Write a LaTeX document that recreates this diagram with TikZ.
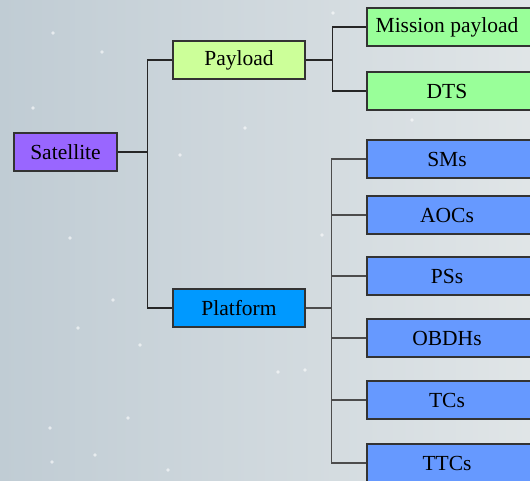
\documentclass[tikz,border=0pt]{standalone}
\usepackage{fontspec}
\setmainfont{Liberation Serif}

\definecolor{satfill}{RGB}{153,102,255}
\definecolor{payfill}{RGB}{204,255,153}
\definecolor{missionfill}{RGB}{153,255,153}
\definecolor{platfill}{RGB}{0,153,255}
\definecolor{subfill}{RGB}{102,153,255}
\definecolor{bgleft}{RGB}{192,204,212}
\definecolor{bgright}{RGB}{224,229,231}

\tikzset{%
  every block/.style={
    rectangle,
    draw=black!80,
    line width=1.3pt,
    minimum height=38pt,
    inner sep=0pt,
    font=\fontsize{21.5}{24}\selectfont
  },
  block satellite/.style={fill=satfill, minimum width=103pt},
  block payload/.style={fill=payfill, minimum width=132pt},
  block platform/.style={fill=platfill, minimum width=132pt},
  block mission/.style={fill=missionfill, minimum width=170pt,
    execute at begin node=\hspace*{-10pt}},
  block sub/.style={fill=subfill, minimum width=170pt,
    execute at begin node=\hspace*{-10pt}},
  link/.style={line width=1.2pt, draw=black!85},
}

\begin{document}
\begin{tikzpicture}[x=1pt, y=-1pt]

% BACKGROUND
\clip (0,0) rectangle (530,481);
\shade [left color=bgleft, right color=bgright] (0,0) rectangle (530,481);
\foreach \x/\y in {53/33,102/52,33/108,333/13,100/148,180/155,245/128,70/238,113/300,78/328,140/345,50/428,128/418,52/462,278/372,305/370,322/235,412/120,168/470,95/455}
  \fill [white, opacity=0.6] (\x,\y) circle (1.8pt);

% ROOT
\node [every block, block satellite] (satellite) at (65.5,152) {Satellite};

% SECOND level
\node [every block, block payload] (payload) at (239,60) {Payload};
\node [every block, block platform] (platform) at (239,308) {Platform};

% PAYLOAD children
\foreach \m/\l/\y in {mission/Mission payload/27, dts/DTS/91}
  \node [every block, block mission] (\m) at (452,\y) {\l};

% PLATFORM children
\foreach \l/\y [count=\i] in {SMs/159, AOCs/215, PSs/276, OBDHs/338, TCs/400, TTCs/463}
  \node [every block, block sub] (sub-\i) at (452,\y) {\l};

% Connections: satellite -> payload, platform
\foreach \n in {payload, platform}
  \draw [link] (satellite.east) -- ++(30,0) |- (\n.west);

% Connections: payload -> children
\foreach \n in {mission, dts}
  \draw [link] (payload.east) -- ++(27,0) |- (\n.west);

% Connections: platform -> children
\foreach \i in {1,...,6}
  \draw [link, draw=black!70] (platform.east) -- ++(26,0) |- (sub-\i.west);

\end{tikzpicture}
\end{document}
